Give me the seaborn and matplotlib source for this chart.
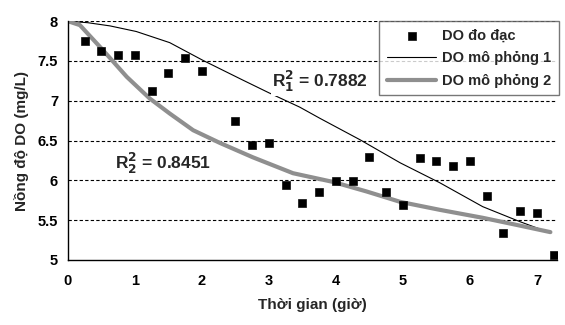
import matplotlib
matplotlib.use('Agg')
import matplotlib.pyplot as plt
import seaborn as sns

# Số liệu đo đạc
t_do = [0.25, 0.5, 0.75, 1.0, 1.25, 1.5, 1.75, 2.0, 2.5, 2.75, 3.0, 3.25, 3.5, 3.75,
        4.0, 4.25, 4.5, 4.75, 5.0, 5.25, 5.5, 5.75, 6.0, 6.25, 6.5, 6.75, 7.0, 7.25]
do_do = [7.75, 7.62, 7.58, 7.58, 7.12, 7.35, 7.54, 7.37, 6.74, 6.45, 6.47, 5.94, 5.72, 5.86,
         5.99, 5.99, 6.29, 5.85, 5.69, 6.28, 6.24, 6.18, 6.24, 5.80, 5.34, 5.62, 5.59, 5.06]

# Mô phỏng 1
t_m1 = [0, 0.3, 0.63, 1.02, 1.52, 2.01, 2.61, 3.0, 3.46, 3.76, 4.36, 4.96, 5.55, 6.19, 6.75, 7.2]
do_m1 = [8.0, 7.98, 7.94, 7.87, 7.73, 7.51, 7.26, 7.10, 6.92, 6.78, 6.51, 6.22, 5.97, 5.67, 5.48, 5.34]

# Mô phỏng 2
t_m2 = [0, 0.18, 0.52, 0.88, 1.22, 1.52, 1.87, 2.27, 2.76, 3.36, 3.96, 4.46, 4.96, 5.55, 6.19, 6.7, 7.2]
do_m2 = [8.0, 7.95, 7.64, 7.30, 7.03, 6.84, 6.63, 6.47, 6.29, 6.09, 5.98, 5.86, 5.73, 5.63, 5.53, 5.44, 5.35]

sns.set_style('white')
plt.rcParams['font.family'] = ['Liberation Sans', 'DejaVu Sans']
plt.rcParams['font.weight'] = 'bold'

fig = plt.figure(figsize=(5.65, 3.25), dpi=100)
ax = fig.add_axes([0.120, 0.20, 0.866, 0.735])

for y in [5.5, 6, 6.5, 7, 7.5, 8]:
    ax.axhline(y, color='black', lw=0.8, ls=(0, (3, 2)), zorder=0)

sns.lineplot(x=t_m1, y=do_m1, ax=ax, color='black', lw=0.8, label='DO mô phỏng 1', zorder=2)
sns.lineplot(x=t_m2, y=do_m2, ax=ax, color='#8f8f8f', lw=3.0, label='DO mô phỏng 2', zorder=2)
sns.scatterplot(x=t_do, y=do_do, ax=ax, color='black', marker='s', s=32, edgecolor='black',
                label='DO đo đạc', zorder=3)

ax.set_xlim(0, 7.3)
ax.set_ylim(5, 8)
ax.set_xticks(range(8))
ax.set_yticks([5, 5.5, 6, 6.5, 7, 7.5, 8])
ax.set_yticklabels(['5', '5.5', '6', '6.5', '7', '7.5', '8'])
ax.tick_params(axis='both', direction='out', length=4, width=1, labelsize=10.5, colors='black', pad=6)
ax.tick_params(axis='y', pad=3)
for s in ['top', 'right']:
    ax.spines[s].set_visible(False)
for s in ['left', 'bottom']:
    ax.spines[s].set_color('black')
    ax.spines[s].set_linewidth(1)

ax.set_xlabel('Thời gian (giờ)', fontsize=11, fontweight='bold', labelpad=7)
ax.set_ylabel('Nồng độ DO (mg/L)', fontsize=11, fontweight='bold', labelpad=6)

box = dict(facecolor='white', edgecolor='none', pad=1)
ax.text(3.05, 7.17, r'R$_\mathbf{1}^\mathbf{2}$ = 0.7882', fontsize=12.5, fontweight='bold', bbox=box, zorder=4)
ax.text(0.7, 6.14, r'R$_\mathbf{2}^\mathbf{2}$ = 0.8451', fontsize=12.5, fontweight='bold', bbox=box, zorder=4)

h, l = ax.get_legend_handles_labels()
order = [2, 0, 1]
leg = ax.legend([h[i] for i in order], [l[i] for i in order], loc='upper left',
                bbox_to_anchor=(0.637, 1.0), frameon=True, fancybox=False, fontsize=10.5,
                handlelength=3.4, borderpad=0.5, labelspacing=0.6, handletextpad=0.4,
                borderaxespad=0)
leg.get_frame().set_edgecolor('#555555')
leg.get_frame().set_linewidth(1)
for t in leg.get_texts():
    t.set_fontweight('bold')

fig.savefig('out.png', dpi=100)
